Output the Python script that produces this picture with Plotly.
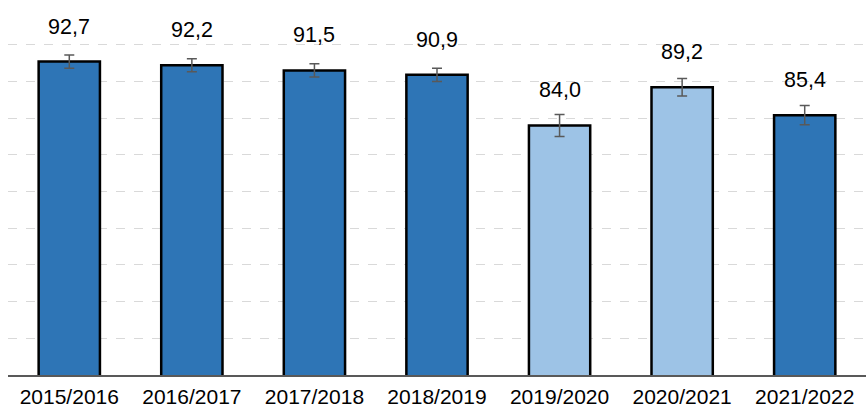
import plotly.graph_objects as go

categories = ["2015/2016", "2016/2017", "2017/2018", "2018/2019", "2019/2020", "2020/2021", "2021/2022"]
values = [92.7, 92.2, 91.5, 90.9, 84.0, 89.2, 85.4]
errors = [0.9, 0.9, 0.9, 0.9, 1.5, 1.2, 1.3]
dark = "#2E75B6"
light = "#9DC3E6"
colors = [dark, dark, dark, dark, light, light, dark]
labels = [f"{v:.1f}".replace(".", ",") for v in values]

fig = go.Figure()
fig.add_trace(go.Bar(
    x=categories, y=values, width=0.5,
    marker=dict(color=colors, line=dict(color="black", width=2.5)),
    error_y=dict(type="data", array=errors, visible=True, color="#595959", thickness=1.5, width=5),
    showlegend=False,
))
for c, v, t in zip(categories, values, labels):
    fig.add_annotation(x=c, y=v, text=t, showarrow=False, yshift=35,
                       font=dict(family="Liberation Sans, Arial", size=21.5, color="black"))

fig.update_layout(
    width=866, height=410,
    margin=dict(l=8, r=0, t=8, b=35),
    plot_bgcolor="white", paper_bgcolor="white",
    font=dict(family="Liberation Sans, Arial", size=21.5, color="black"),
    bargap=0.5,
)
fig.update_yaxes(range=[50, 100], dtick=5, showticklabels=False, showgrid=True,
                 gridcolor="#D9D9D9", griddash="dash", gridwidth=1, zeroline=False, showline=False,
                 automargin=False)
fig.update_xaxes(showline=True, linecolor="#595959", linewidth=1.5, showgrid=False,
                 ticks="", ticklabelstandoff=2, automargin=False,
                 tickfont=dict(size=21, color="black"))
fig.write_html("out.html", config={"displayModeBar": False},
               post_script="document.body.style.margin='0';document.body.style.overflow='hidden';")
